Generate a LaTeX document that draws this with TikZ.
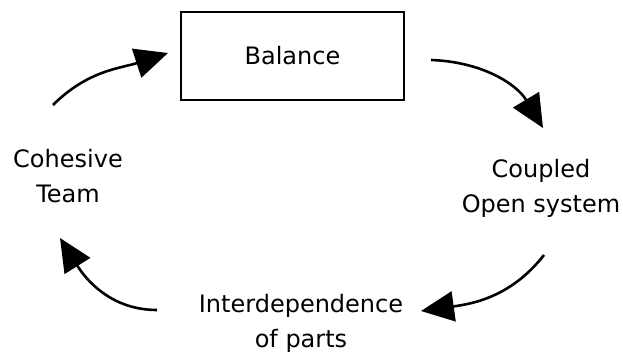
\documentclass[tikz,border=0pt]{standalone}
\usepackage{fontspec}
\setmainfont{DejaVu Sans}
\usetikzlibrary{arrows.meta}
\begin{document}
\begin{tikzpicture}[x=1pt,y=1pt,
  cycarrow/.style={line width=2.6pt,-{Triangle[length=33pt,width=30pt]}},
  txt/.style={align=center,font=\fontsize{24}{35}\selectfont,inner sep=0pt},
  framebox/.style={draw,line width=2.4pt,minimum width=223pt,minimum height=88pt}]
\useasboundingbox (0,0) rectangle (623,356);

% the four stages of the cycle
\node[txt,framebox] (bal) at (292.5,300) {Balance};
\node[txt] (cop) at (541,168) {Coupled\\Open system};
\node[txt] (int) at (301,33) {Interdependence\\of parts};
\node[txt] (coh) at (68,180) {Cohesive\\Team};

% ends of the connecting arcs
\coordinate (cohout) at (53,251);
\coordinate (balin)  at (168,303);
\coordinate (balout) at (431,296);
\coordinate (copin)  at (543,228);
\coordinate (copout) at (544,101);
\coordinate (intin)  at (421,45);
\coordinate (intout) at (157,46);
\coordinate (cohin)  at (60,118);

\draw[cycarrow] (cohout) to[out=45,in=198] (balin);
\draw[cycarrow] (balout) to[out=-2,in=121] (copin);
\draw[cycarrow] (copout) to[out=232,in=8] (intin);
\draw[cycarrow] (intout) to[out=180,in=-58] (cohin);
\end{tikzpicture}
\end{document}
